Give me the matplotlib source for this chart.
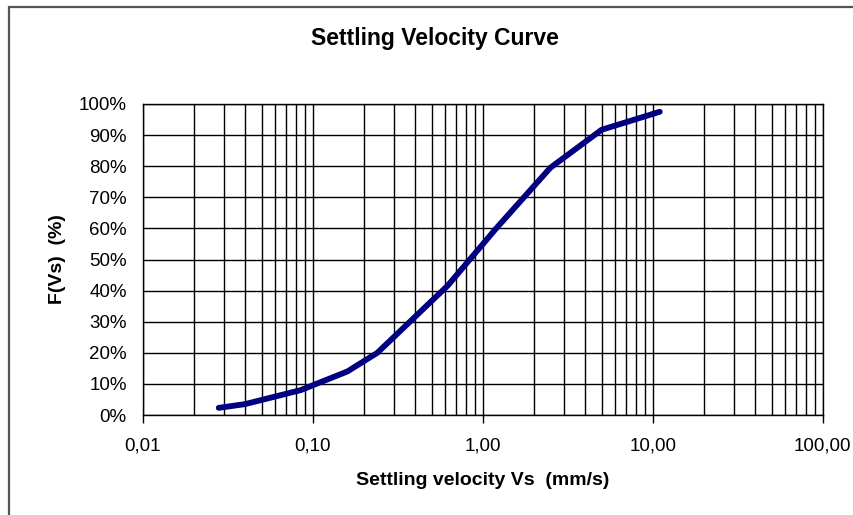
import matplotlib
matplotlib.use("Agg")
import matplotlib.pyplot as plt
from matplotlib.ticker import FixedLocator, FixedFormatter, LogLocator, NullFormatter
from matplotlib.lines import Line2D

plt.rcParams['font.family'] = ['Liberation Sans', 'DejaVu Sans']

# Data
velocity = [0.028, 0.04, 0.085, 0.16, 0.24, 0.62, 1.2, 2.5, 5.0, 11.0]
fvs = [2.3, 3.5, 8.0, 14.0, 20.0, 41.5, 60.0, 79.5, 91.7, 97.5]

x_ticks = [0.01, 0.1, 1, 10, 100]
x_labels = ["0,01", "0,10", "1,00", "10,00", "100,00"]
y_ticks = list(range(0, 101, 10))
y_labels = [f"{v}%" for v in y_ticks]

fig = plt.figure(figsize=(8.54, 5.15), dpi=100)
ax = fig.add_axes([142.7/854, 1-415/515, (822.7-142.7)/854, (415-104)/515])

ax.set_xscale('log')
ax.set_xlim(0.01, 100)
ax.set_ylim(0, 100)

ax.plot(velocity, fvs, color='#000080', lw=4.2, solid_capstyle='round',
        solid_joinstyle='round', zorder=3)

ax.xaxis.set_major_locator(FixedLocator(x_ticks))
ax.xaxis.set_major_formatter(FixedFormatter(x_labels))
ax.xaxis.set_minor_locator(LogLocator(base=10, subs=range(2, 10)))
ax.xaxis.set_minor_formatter(NullFormatter())
ax.yaxis.set_major_locator(FixedLocator(y_ticks))
ax.yaxis.set_major_formatter(FixedFormatter(y_labels))

ax.grid(True, which='major', axis='both', color='black', lw=1.0)
ax.grid(True, which='minor', axis='x', color='black', lw=1.0)
ax.tick_params(axis='x', which='major', direction='out', length=6, width=1,
               labelsize=13.5, pad=10, colors='black')
ax.tick_params(axis='x', which='minor', length=0)
ax.tick_params(axis='y', which='major', direction='in', length=0,
               labelsize=13.5, pad=11.5)
for s in ax.spines.values():
    s.set_color('black')
    s.set_linewidth(1.0)

ax.set_xlabel("Settling velocity Vs  (mm/s)", fontsize=14, fontweight='bold',
              labelpad=13)
ax.set_ylabel("F(Vs)  (%)", fontsize=14, fontweight='bold', labelpad=9.5)

fig.text(435/854, 1-38/515, "Settling Velocity Curve", ha='center', va='center',
         fontsize=16.5, fontweight='bold')

# outer frame of the chart (left and top edges visible)
fx = 9 / 854
fy = 1 - 6.5 / 515
fig.lines.append(Line2D([fx, fx, 1.01], [-0.01, fy, fy], transform=fig.transFigure,
                        color='#555555', lw=1.6, solid_joinstyle='miter'))

fig.savefig("out.png", dpi=100)
